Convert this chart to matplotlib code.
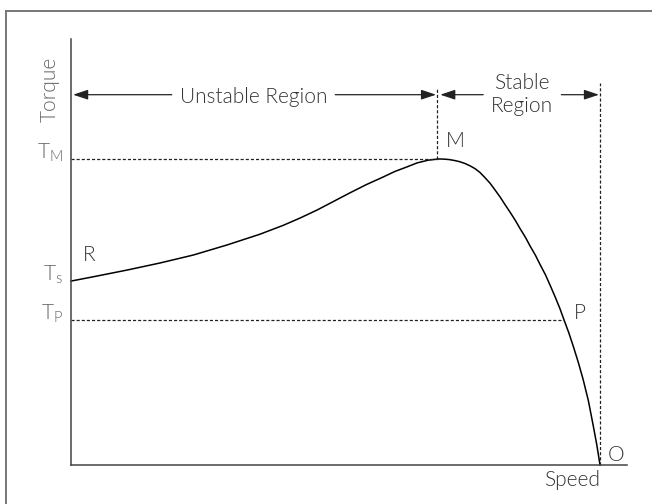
import matplotlib
matplotlib.use('Agg')
import matplotlib.pyplot as plt
from matplotlib.lines import Line2D

plt.rcParams['font.family'] = ['Lato', 'DejaVu Sans']
plt.rcParams['font.weight'] = 300
plt.rcParams['mathtext.fontset'] = 'custom'
plt.rcParams['mathtext.rm'] = 'Lato:light'

# torque-speed curve (speed 0..100, torque with T_M = 100)
speed = [0, 4.2, 10.6, 16.8, 23.1, 29.5, 35.7, 40.1, 43.3, 46.5, 49.6, 52.7, 55.8,
         59.0, 61.2, 63.5, 65.4, 67.5, 69.5, 70.5, 71.5, 72.5, 73.5, 74.5, 75.5,
         76.4, 77.3, 78.2, 79.2, 80.1, 81.1, 82.0, 83.0, 84.0, 84.9, 85.9, 86.8,
         87.8, 88.7, 89.7, 90.6, 91.5, 92.4, 93.2, 94.1, 95.0, 95.9, 96.8, 97.8,
         98.7, 99.4, 100]
torque = [60.1, 61.5, 63.7, 66.0, 68.6, 71.9, 75.4, 78.3, 80.7, 83.3, 86.1, 88.9, 91.6,
          94.1, 95.9, 97.4, 98.7, 99.6, 100, 99.95, 99.8, 99.5, 99.1, 98.5, 97.7,
          96.8, 95.6, 94.0, 92.1, 90.0, 87.6, 85.2, 82.6, 79.9, 77.2, 74.4, 71.5,
          68.5, 65.4, 62.1, 58.6, 55.0, 51.2, 47.4, 43.2, 38.5, 33.5, 28.0, 21.0,
          13.0, 6.5, 0]

tick_values = [100, 60.1, 47.4]
tick_labels = [r'$\mathregular{T_M}$', r'$\mathregular{T_s}$', r'$\mathregular{T_P}$']

speed_M, torque_M = 69.5, 100
speed_P, torque_P = 93.2, 47.4
speed_O = 100

dark = '#222222'

fig = plt.figure(figsize=(6.52, 5.04), dpi=100)
ax = fig.add_axes([71 / 652, 39 / 504, 556 / 652, 426 / 504])
ax.set_xlim(0, 105.1)
ax.set_ylim(0, 139.2)
for s in ['top', 'right']:
    ax.spines[s].set_visible(False)
for s in ['left', 'bottom']:
    ax.spines[s].set_color('#444444')
    ax.spines[s].set_linewidth(1.1)
ax.set_xticks([])
ax.set_yticks(tick_values)
ax.set_yticklabels(tick_labels)
ax.tick_params(axis='y', length=0, pad=6, labelsize=15, labelcolor='#666666')
for lab in ax.get_yticklabels():
    lab.set_verticalalignment('baseline')

# curve
ax.plot(speed, torque, color='black', lw=1.1, clip_on=False, solid_joinstyle='round')

# dashed guide lines
dash = dict(color=dark, lw=0.9, linestyle=(0, (2.5, 1.6)), clip_on=False)
ax.plot([0, speed_M], [torque_M, torque_M], **dash)
ax.plot([0, speed_P], [torque_P, torque_P], **dash)
ax.plot([speed_M - 0.3, speed_M - 0.3], [torque_M, 123.2], **dash)
ax.plot([speed_O, speed_O], [0, 124.8], **dash)

# region labels
ya = 121.0
txt = dict(fontsize=15, color='#333333', fontweight=300)
t_un = ax.text(34.5, ya, 'Unstable Region', ha='center', va='center_baseline', **txt)
t_st = ax.text(85.3, ya, 'Stable\nRegion', ha='center', va='center', linespacing=1.2, **txt)

# arrows stop a little short of the label text
fig.canvas.draw()
inv = ax.transData.inverted()
gap = 8
def edges(t):
    bb = t.get_window_extent()
    x0 = inv.transform((bb.x0 - gap, 0))[0]
    x1 = inv.transform((bb.x1 + gap, 0))[0]
    return x0, x1

arr = dict(arrowstyle='-|>,head_length=0.9,head_width=0.3', color=dark, lw=0.9,
           shrinkA=0, shrinkB=0)
u0, u1 = edges(t_un)
s0, s1 = edges(t_st)
ax.annotate('', xy=(0.4, ya), xytext=(u0, ya), arrowprops=arr)
ax.annotate('', xy=(69.0, ya), xytext=(u1, ya), arrowprops=arr)
ax.annotate('', xy=(69.8, ya), xytext=(s0, ya), arrowprops=arr)
ax.annotate('', xy=(99.8, ya), xytext=(s1, ya), arrowprops=arr)

# point labels
ax.text(3.4, 65.5, 'R', ha='center', va='bottom', **txt)
ax.text(72.6, 102.5, 'M', ha='center', va='bottom', **txt)
ax.text(96.2, torque_P - 1.0, 'P', ha='center', va='bottom', **txt)
ax.text(103.0, 0.0, 'O', ha='center', va='bottom', **txt)

ax.text(94.7, -1.5, 'Speed', ha='center', va='top', **txt)
ax.text(-4.0, 122.9, 'Torque', ha='center', va='center', rotation=90, fontsize=15,
        color='#666666', fontweight=300)

# outer frame (only top and left edges visible)
fig.add_artist(Line2D([6 / 652, 6 / 652], [0, 1 - 11 / 504], color='#777777', lw=1.4))
fig.add_artist(Line2D([6 / 652, 1], [1 - 11 / 504, 1 - 11 / 504], color='#777777', lw=1.4))

fig.savefig('out.png', dpi=100)
